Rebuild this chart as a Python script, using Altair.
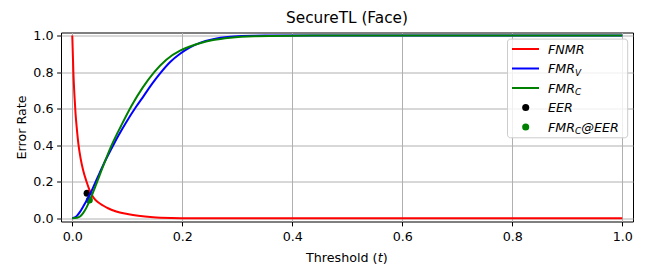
import altair as alt
import pandas as pd

# ---------------- data ----------------
t_fnmr = [0.0, 0.002, 0.004, 0.006, 0.008, 0.011, 0.015, 0.02, 0.026, 0.03, 0.035, 0.04,
          0.047, 0.056, 0.065, 0.08, 0.1, 0.12, 0.147, 0.18, 0.22, 0.3, 0.5, 1.0]
v_fnmr = [1.0, 0.80, 0.67, 0.57, 0.50, 0.41, 0.33, 0.26, 0.20, 0.165, 0.13, 0.108,
          0.088, 0.07, 0.055, 0.037, 0.024, 0.014, 0.006, 0.002, 0.0005, 0.0, 0.0, 0.0]

t_fmrv = [0.0, 0.008, 0.014, 0.02, 0.032, 0.041, 0.05, 0.06, 0.0745, 0.085, 0.097, 0.116,
          0.13, 0.145, 0.159, 0.178, 0.196, 0.214, 0.232, 0.256, 0.287, 0.33, 0.4, 0.6, 1.0]
v_fmrv = [0.0, 0.012, 0.035, 0.065, 0.13, 0.19, 0.25, 0.315, 0.4, 0.458, 0.52, 0.61,
          0.67, 0.735, 0.79, 0.855, 0.9, 0.935, 0.96, 0.98, 0.993, 0.999, 1.0, 1.0, 1.0]

t_fmrc = [0.0, 0.008, 0.014, 0.02, 0.026, 0.032, 0.044, 0.058, 0.0716, 0.0886, 0.107,
          0.128, 0.149, 0.171, 0.196, 0.214, 0.232, 0.256, 0.287, 0.33, 0.4, 0.5, 0.7, 1.0]
v_fmrc = [0.0, 0.003, 0.01, 0.03, 0.06, 0.10, 0.19, 0.3, 0.4, 0.505, 0.612,
          0.715, 0.8, 0.868, 0.917, 0.94, 0.958, 0.975, 0.988, 0.996, 0.999, 1.0, 1.0, 1.0]

eer_t = [0.027]
eer_v = [0.137]
fmrc_eer_t = [0.031]
fmrc_eer_v = [0.10]

x_ticks = [0.0, 0.2, 0.4, 0.6, 0.8, 1.0]
y_ticks = [0.0, 0.2, 0.4, 0.6, 0.8, 1.0]

title_text = "SecureTL (Face)"
y_title = "Error Rate"

# ---------------- styling ----------------
FONT = "DejaVu Sans"
FS = 12.7
W, H = 572, 189
RED, BLUE, GREEN = "#ff0000", "#0000ff", "#008000"

xenc = alt.X("t:Q",
             scale=alt.Scale(domain=[-0.0205, 1.0195], nice=False, zero=False),
             axis=alt.Axis(values=x_ticks, format=".1f", title=None, grid=True,
                           gridColor="#b0b0b0", gridWidth=1, tickSize=4.4, tickColor="black",
                           tickWidth=1, domain=False, labelFont=FONT, labelFontSize=FS,
                           labelColor="black", labelPadding=5, labelFlush=False,
                           labelOverlap=False))
yenc = alt.Y("v:Q",
             scale=alt.Scale(domain=[-0.0175, 1.0165], nice=False, zero=False),
             axis=alt.Axis(values=y_ticks, format=".1f", title=y_title, grid=True,
                           gridColor="#b0b0b0", gridWidth=1, tickSize=4.4, tickColor="black",
                           tickWidth=1, domain=False, labelFont=FONT, labelFontSize=FS,
                           labelColor="black", labelPadding=3.6, labelFlush=False,
                           labelOverlap=False, titleFont=FONT, titleFontSize=FS,
                           titleFontWeight="normal", titleColor="black", titleAngle=270,
                           titleBaseline="alphabetic", titleAlign="center",
                           titleX=-36, titleY=94.5))


def line(t, v, color):
    df = pd.DataFrame({"t": t, "v": v})
    return alt.Chart(df).mark_line(color=color, strokeWidth=2, interpolate="monotone").encode(
        x=xenc, y=yenc)


def pts(t, v, color):
    df = pd.DataFrame({"t": t, "v": v})
    return alt.Chart(df).mark_circle(color=color, size=50, opacity=1).encode(x=xenc, y=yenc)


dummy = pd.DataFrame({"d": [0]})


def txt(s, x, y, size=FS, italic=True, align="left"):
    return alt.Chart(dummy).mark_text(
        text=s, font=FONT, fontSize=size, fontStyle="italic" if italic else "normal",
        align=align, baseline="alphabetic", color="black").encode(
        x=alt.value(x), y=alt.value(y))


def sample_line(color, y):
    return alt.Chart(dummy).mark_rule(color=color, strokeWidth=2).encode(
        x=alt.value(451), x2=alt.value(478), y=alt.value(y))


def sample_dot(color, y):
    return alt.Chart(dummy).mark_point(filled=True, color=color, size=50, opacity=1,
                                       shape="circle").encode(x=alt.value(464.7), y=alt.value(y))


rows = [16.5, 36, 55.5, 75, 94.5]
tx = 487
sub_fs = FS * 0.7
fmr_w = 2.133 * FS

legend = [
    alt.Chart(dummy).mark_rect(fill="white", fillOpacity=0.8, stroke="#cccccc", strokeWidth=1,
                               cornerRadius=3).encode(
        x=alt.value(446.5), x2=alt.value(566.7), y=alt.value(6.6), y2=alt.value(105.3)),
    sample_line(RED, rows[0]),
    sample_line(BLUE, rows[1]),
    sample_line(GREEN, rows[2]),
    sample_dot("black", rows[3]),
    sample_dot(GREEN, rows[4]),
    txt("FNMR", tx, rows[0] + 4.5),
    txt("FMR", tx, rows[1] + 4.5),
    txt("V", tx + fmr_w, rows[1] + 7.0, size=sub_fs),
    txt("FMR", tx, rows[2] + 4.5),
    txt("C", tx + fmr_w, rows[2] + 7.0, size=sub_fs),
    txt("EER", tx, rows[3] + 4.5),
    txt("FMR", tx, rows[4] + 4.5),
    txt("C", tx + fmr_w, rows[4] + 7.0, size=sub_fs),
    txt("@EER", tx + fmr_w + 0.698 * sub_fs, rows[4] + 4.5),
]

xtitle = [
    txt("Threshold (", 245, 229.1, italic=False),
    txt("t", 245 + 5.659 * FS, 229.1, italic=True),
    txt(")", 245 + 6.051 * FS, 229.1, italic=False),
]

title = alt.Chart(dummy).mark_text(
    text=title_text, font=FONT, fontSize=15.3, align="center", baseline="alphabetic",
    color="black").encode(x=alt.value(W / 2), y=alt.value(-9.5))

chart = alt.layer(
    pts(eer_t, eer_v, "black"),
    pts(fmrc_eer_t, fmrc_eer_v, GREEN),
    line(t_fnmr, v_fnmr, RED),
    line(t_fmrv, v_fmrv, BLUE),
    line(t_fmrc, v_fmrc, GREEN),
    *legend,
    *xtitle,
    title,
).properties(
    width=W, height=H,
    padding={"left": 53, "top": 24.5, "right": 7, "bottom": 56},
    autosize=alt.AutoSizeParams(type="none"),
    background="white",
).configure_view(stroke="black", strokeWidth=1)

chart.save("out.html", embed_options={"renderer": "svg", "actions": False})
